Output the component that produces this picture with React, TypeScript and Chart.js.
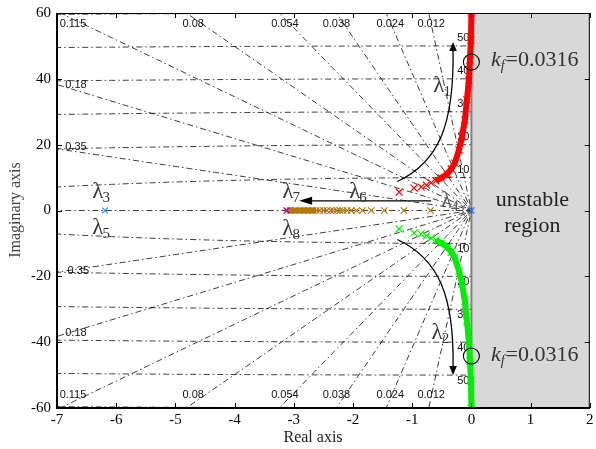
import React, { useEffect, useRef } from "react";
import { Chart, registerables } from "chart.js";

Chart.register(...registerables);

// ---- axes ----
const xMin = -7;
const xMax = 2;
const yMin = -60;
const yMax = 60;
const xTickValues = [-7, -6, -5, -4, -3, -2, -1, 0, 1, 2];
const yTickValues = [-60, -40, -20, 0, 20, 40, 60];

// ---- s-plane grid (damping ratios and natural frequencies) ----
const dampingRatios = [0.012, 0.024, 0.038, 0.054, 0.08, 0.115, 0.18, 0.35];
const naturalFreqs = [10, 20, 30, 40, 50, 60];

// ---- root-locus branches ----
// λ1 (red, upper branch)
const lambda1Re = [-1.22, -0.97, -0.85, -0.76, -0.68, -0.6, -0.51, -0.41, -0.34, -0.28, -0.21, -0.16, -0.11, -0.076, -0.042, -0.025, -0.008, 0.0];
const lambda1Im = [5.6, 6.8, 7.1, 7.7, 8.4, 9.0, 9.9, 11.1, 12.6, 14.4, 18.4, 22.3, 27.5, 33.6, 39.6, 45.7, 51.8, 60];
// λ2 (green, lower branch)
const lambda2Re = [-1.22, -0.97, -0.85, -0.76, -0.68, -0.6, -0.51, -0.41, -0.34, -0.28, -0.21, -0.16, -0.11, -0.076, -0.042, -0.025, -0.008, 0.0];
const lambda2Im = [-5.6, -6.8, -7.1, -7.7, -8.4, -9.0, -9.9, -11.1, -12.6, -14.4, -18.4, -22.3, -27.5, -33.6, -39.6, -45.7, -51.8, -60];
// λ6 / λ7 (brown, real axis)
const lambda6Re = [-3.12, -3.05, -2.98, -2.9, -2.83, -2.76, -2.69, -2.62, -2.56, -2.5, -2.44, -2.38, -2.33, -2.27, -2.22, -2.17, -2.1, -2.03, -1.94, -1.84, -1.69, -1.47, -1.14, -0.69];
const lambda6Im = [0, 0, 0, 0, 0, 0, 0, 0, 0, 0, 0, 0, 0, 0, 0, 0, 0, 0, 0, 0, 0, 0, 0, 0];
// fixed poles
const bluePoleRe = [-6.19, 0];
const bluePoleIm = [0, 0];
const magentaPoleRe = [-3.12, 0];
const magentaPoleIm = [0, 0];
// critical gain crossing
const kfLabel = "=0.0316";
const kfCrossIm = [45.1, -44.2];

const SERIF = '"Liberation Serif", "Times New Roman", serif';
const SANS = '"Liberation Sans", Arial, sans-serif';

const pts = (re: number[], im: number[]) => re.map((r, i) => ({ x: r, y: im[i] }));

function drawLambda(ctx: CanvasRenderingContext2D, cx: number, cy: number, sub: string, color: string) {
  ctx.fillStyle = color;
  ctx.textBaseline = "alphabetic";
  ctx.textAlign = "left";
  ctx.font = `23px ${SERIF}`;
  const w = ctx.measureText("λ").width;
  const base = cy + 8;
  ctx.fillText("λ", cx - w / 2, base);
  ctx.font = `15px ${SERIF}`;
  ctx.fillText(sub, cx + w / 2 - 1, base + 4);
}

function arrowHead(ctx: CanvasRenderingContext2D, tx: number, ty: number, ang: number, len: number, half: number) {
  const bx = tx - len * Math.cos(ang);
  const by = ty - len * Math.sin(ang);
  ctx.beginPath();
  ctx.moveTo(tx, ty);
  ctx.lineTo(bx + half * Math.sin(ang), by - half * Math.cos(ang));
  ctx.lineTo(bx - half * Math.sin(ang), by + half * Math.cos(ang));
  ctx.closePath();
  ctx.fill();
}

const sPlanePlugin = {
  id: "sPlane",
  beforeDatasetsDraw(chart: any) {
    const { ctx, chartArea: a, scales } = chart;
    const X = (v: number) => scales.x.getPixelForValue(v);
    const Y = (v: number) => scales.y.getPixelForValue(v);
    ctx.save();
    const x0 = X(0);
    ctx.fillStyle = "#d8d8d8";
    ctx.fillRect(x0, a.top, a.right - x0, a.bottom - a.top);
    ctx.strokeStyle = "#808080";
    ctx.lineWidth = 2;
    ctx.beginPath();
    ctx.moveTo(x0, a.top);
    ctx.lineTo(x0, a.bottom);
    ctx.stroke();

    // grid labels
    ctx.fillStyle = "#111";
    ctx.font = `11px ${SANS}`;
    ctx.textAlign = "center";
    ctx.textBaseline = "middle";
    const labelPos: Record<string, [number, number][]> = {
      "0.012": [[-0.68, 56.6], [-0.68, -56.0]],
      "0.024": [[-1.37, 56.6], [-1.37, -56.0]],
      "0.038": [[-2.28, 56.6], [-2.28, -56.0]],
      "0.054": [[-3.15, 56.6], [-3.15, -56.0]],
      "0.08": [[-4.7, 56.6], [-4.7, -56.0]],
      "0.115": [[-6.73, 56.6], [-6.73, -56.0]],
      "0.18": [[-6.68, 38.1], [-6.68, -37.2]],
      "0.35": [[-6.68, 19.3], [-6.64, -18.4]],
    };
    dampingRatios.forEach((z) => {
      const key = String(z);
      (labelPos[key] || []).forEach(([lx, ly]) => ctx.fillText(key, X(lx), Y(ly)));
    });
    ctx.textAlign = "left";
    naturalFreqs.forEach((wn) => {
      if (wn >= 60) return;
      ctx.fillText(String(wn), X(-0.24), Y(wn) - 8);
      ctx.fillText(String(wn), X(-0.24), Y(-wn) + 6);
    });
    ctx.restore();
  },
  afterDatasetsDraw(chart: any) {
    const { ctx, scales } = chart;
    const X = (v: number) => scales.x.getPixelForValue(v);
    const Y = (v: number) => scales.y.getPixelForValue(v);
    ctx.save();

    // arrows
    ctx.strokeStyle = "#000";
    ctx.fillStyle = "#000";
    ctx.lineWidth = 1.3;
    ctx.beginPath();
    ctx.moveTo(X(-0.68), Y(2.95));
    ctx.lineTo(X(-2.7), Y(2.95));
    ctx.stroke();
    arrowHead(ctx, X(-2.91), Y(2.95), Math.PI, 13, 4);
    [1, -1].forEach((s) => {
      ctx.beginPath();
      ctx.moveTo(X(-1.25), Y(s * 8.8));
      ctx.bezierCurveTo(X(-0.55), Y(s * 14.7), X(-0.29), Y(s * 26), X(-0.31), Y(s * (s > 0 ? 48.8 : 47.5)));
      ctx.stroke();
      const tip = s > 0 ? 51.2 : -50.0;
      arrowHead(ctx, X(-0.31), Y(tip), s > 0 ? -Math.PI / 2 : Math.PI / 2, 9, 3.8);
    });

    // λ labels
    drawLambda(ctx, X(-6.31), Y(6.2), "3", "#333");
    drawLambda(ctx, X(-6.31), Y(-4.7), "5", "#333");
    drawLambda(ctx, X(-3.1), Y(6.2), "7", "#333");
    drawLambda(ctx, X(-3.1), Y(-5.0), "8", "#333");
    drawLambda(ctx, X(-1.97), Y(6.2), "6", "#333");
    drawLambda(ctx, X(-0.42), Y(3.4), "4", "#555");
    drawLambda(ctx, X(-0.55), Y(38.4), "1", "#333");
    drawLambda(ctx, X(-0.58), Y(-36.6), "2", "#333");

    // kf circles and labels
    ctx.strokeStyle = "#000";
    ctx.lineWidth = 1.1;
    kfCrossIm.forEach((im) => {
      ctx.beginPath();
      ctx.arc(X(0), Y(im), 8, 0, Math.PI * 2);
      ctx.stroke();
    });
    ctx.fillStyle = "#333";
    ctx.textAlign = "left";
    ctx.textBaseline = "alphabetic";
    [43.9, -45.7].forEach((by) => {
      const bx = X(0.33);
      const py = Y(by);
      ctx.font = `italic 22px ${SERIF}`;
      ctx.fillText("k", bx, py);
      const kw = ctx.measureText("k").width;
      ctx.font = `italic 14px ${SERIF}`;
      ctx.fillText("f", bx + kw, py + 4);
      const fw = ctx.measureText("f").width;
      ctx.font = `22px ${SERIF}`;
      ctx.fillText(kfLabel, bx + kw + fw + 1, py);
    });

    // unstable region
    ctx.fillStyle = "#222";
    ctx.textAlign = "center";
    ctx.font = `22px ${SERIF}`;
    ctx.fillText("unstable", X(1.03), Y(1.4));
    ctx.fillText("region", X(1.03), Y(-6.5));
    ctx.restore();
  },
  afterDraw(chart: any) {
    const { ctx, chartArea: a, scales } = chart;
    const X = (v: number) => scales.x.getPixelForValue(v);
    const Y = (v: number) => scales.y.getPixelForValue(v);
    ctx.save();
    ctx.strokeStyle = "#000";
    ctx.lineWidth = 1;
    ctx.beginPath();
    ctx.moveTo(a.left, a.top + 0.5);
    ctx.lineTo(a.right, a.top + 0.5);
    ctx.moveTo(a.right - 0.5, a.top);
    ctx.lineTo(a.right - 0.5, a.bottom);
    ctx.stroke();
    ctx.lineWidth = 2;
    ctx.beginPath();
    ctx.moveTo(a.left, a.top);
    ctx.lineTo(a.left, a.bottom);
    ctx.lineTo(a.right, a.bottom);
    ctx.stroke();
    ctx.lineWidth = 1;
    ctx.beginPath();
    xTickValues.forEach((v) => {
      const px = Math.round(X(v)) + 0.5;
      ctx.moveTo(px, a.bottom);
      ctx.lineTo(px, a.bottom - 5);
      ctx.moveTo(px, a.top);
      ctx.lineTo(px, a.top + 5);
    });
    yTickValues.forEach((v) => {
      const py = Math.round(Y(v)) + 0.5;
      ctx.moveTo(a.left, py);
      ctx.lineTo(a.left + 5, py);
      ctx.moveTo(a.right, py);
      ctx.lineTo(a.right - 5, py);
    });
    ctx.stroke();
    ctx.fillStyle = "#222";
    ctx.font = `16px ${SERIF}`;
    ctx.textAlign = "center";
    ctx.textBaseline = "alphabetic";
    ctx.fillText("Real axis", 313, 442);
    ctx.translate(20, 210);
    ctx.rotate(-Math.PI / 2);
    ctx.fillStyle = "#444";
    ctx.fillText("Imaginary axis", 0, 0);
    ctx.restore();
  },
};

export default function App() {
  const ref = useRef<HTMLCanvasElement>(null);
  useEffect(() => {
    document.body.style.margin = "0";
    const gridStyle = {
      borderColor: "rgba(0,0,0,0.85)",
      borderWidth: 0.9,
      borderDash: [6, 3, 1.5, 3],
      pointRadius: 0,
      showLine: true,
      fill: false,
      order: 20,
    };
    const gridSets: any[] = [];
    const R = 200;
    dampingRatios.forEach((z) => {
      [1, -1].forEach((s) => {
        gridSets.push({
          ...gridStyle,
          data: [
            { x: -R * z, y: s * R * Math.sqrt(1 - z * z) },
            { x: 0, y: 0 },
          ],
        });
      });
    });
    gridSets.push({ ...gridStyle, data: [{ x: -8, y: 0 }, { x: 0, y: 0 }] });
    naturalFreqs.forEach((wn) => {
      [1, -1].forEach((s) => {
        const d: { x: number; y: number }[] = [];
        for (let i = 0; i <= 40; i++) {
          const xv = -7.6 + (7.6 * i) / 40;
          d.push({ x: xv, y: s * Math.sqrt(wn * wn - xv * xv) });
        }
        gridSets.push({ ...gridStyle, data: d });
      });
    });

    const cross = (color: string, data: any[], order: number, r = 4.5) => ({
      data,
      showLine: false,
      pointStyle: "crossRot",
      pointRadius: r,
      borderColor: color,
      backgroundColor: color,
      pointBorderWidth: 1.2,
      order,
    });
    const band = (color: string, data: any[], w: number, order: number) => ({
      data,
      showLine: true,
      borderColor: color,
      borderWidth: w,
      pointRadius: 0,
      order,
    });

    const red = pts(lambda1Re, lambda1Im);
    const green = pts(lambda2Re, lambda2Im);
    const brown = pts(lambda6Re, lambda6Im);

    const noPad = (s: any) => {
      s.paddingLeft = 0;
      s.paddingRight = 0;
      s.paddingTop = 0;
      s.paddingBottom = 0;
    };

    const chart = new Chart(ref.current as HTMLCanvasElement, {
      type: "scatter",
      data: {
        datasets: [
          cross("#1e90ff", pts(bluePoleRe, bluePoleIm), 1, 4),
          cross("#b000b0", pts(magentaPoleRe, magentaPoleIm), 2, 4),
          band("#ff0000", red.slice(5), 6, 4),
          cross("#ff0000", red, 5, 5),
          band("#00ee00", green.slice(5), 6, 4),
          cross("#00ee00", green, 5, 5),
          band("#b07810", brown.slice(0, 8), 6, 4),
          cross("#b07810", brown, 5, 4.5),
          ...gridSets,
        ] as any,
      },
      options: {
        animation: false,
        responsive: false,
        devicePixelRatio: 1,
        events: [],
        layout: { padding: { top: 13, right: 3, left: 0, bottom: 0 } },
        plugins: { legend: { display: false }, tooltip: { enabled: false } },
        scales: {
          x: {
            type: "linear",
            min: xMin,
            max: xMax,
            grid: { display: false, drawTicks: false },
            border: { display: false },
            ticks: {
              stepSize: 1,
              autoSkip: false,
              maxRotation: 0,
              padding: 3,
              color: "#000",
              font: { family: SERIF, size: 15 },
            },
            afterFit: (s: any) => {
              s.height = 41;
              noPad(s);
            },
          },
          y: {
            type: "linear",
            min: yMin,
            max: yMax,
            grid: { display: false, drawTicks: false },
            border: { display: false },
            ticks: {
              stepSize: 20,
              autoSkip: false,
              padding: 6,
              color: "#000",
              font: { family: SERIF, size: 15 },
            },
            afterFit: (s: any) => {
              s.width = 57;
              noPad(s);
            },
          },
        },
      } as any,
      plugins: [sPlanePlugin],
    });
    return () => chart.destroy();
  }, []);
  return <canvas ref={ref} width={596} height={449} style={{ display: "block" }} />;
}
